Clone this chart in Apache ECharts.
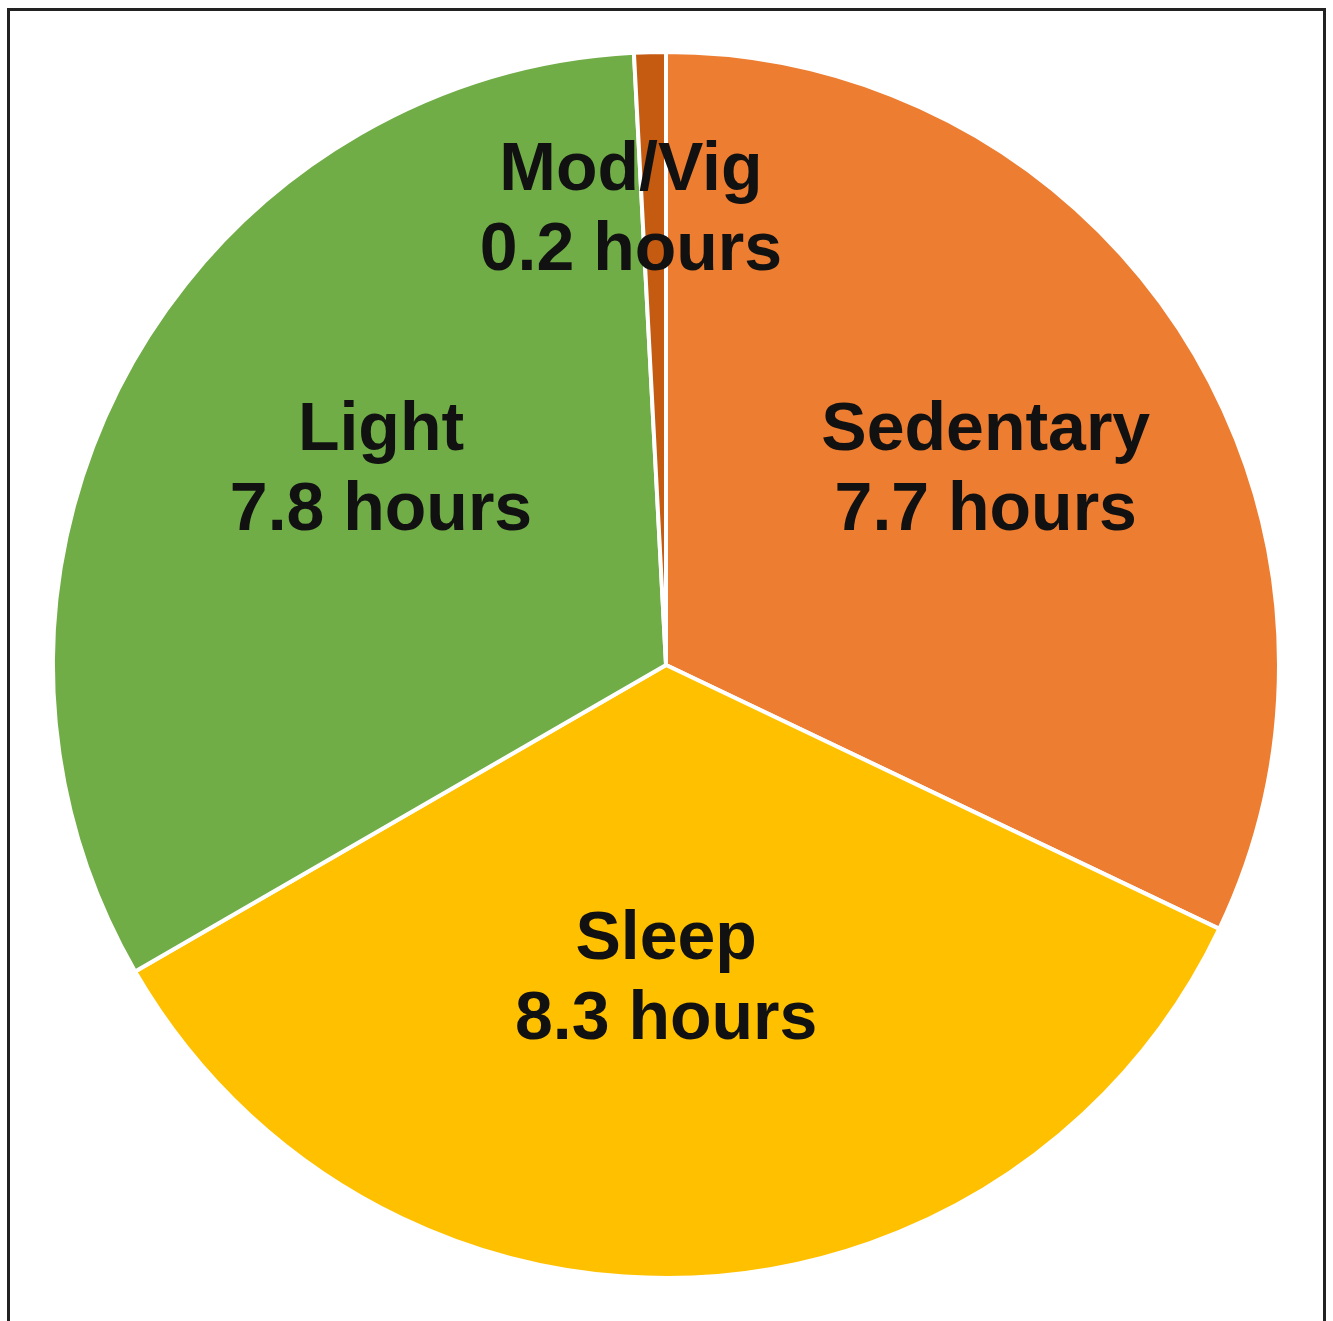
<!DOCTYPE html>
<html>
<head>
<meta charset="utf-8">
<script src="https://cdn.jsdelivr.net/npm/echarts@6/dist/echarts.min.js"></script>
<style>
  html, body { margin: 0; padding: 0; background: #fff; }
  #chart { width: 1333px; height: 1321px; }
</style>
</head>
<body>
<div id="chart"></div>
<script>
// activity time per day, clockwise from 12 o'clock
var categories = ['Sedentary', 'Sleep', 'Light', 'Mod/Vig'];
var hours = [7.7, 8.3, 7.8, 0.2];
var colors = ['#ED7D31', '#FFC000', '#70AD47', '#C55A11'];

// nudge labels to where the original put them
var labelOffset = {
    'Sedentary': [58, -29],
    'Sleep': [-12, 6],
    'Light': [-13, -46],
    'Mod/Vig': [-27, -144]
};

var chart = echarts.init(document.getElementById('chart'));

var option = {
    animation: false,
    backgroundColor: '#fff',
    graphic: [{
        type: 'rect',
        shape: { x: 8.5, y: 9.5, width: 1316, height: 1340 },
        style: { fill: 'none', stroke: '#222', lineWidth: 3 }
    }],
    series: [{
        type: 'pie',
        center: [666, 665],
        radius: [0, 613],
        startAngle: 90,
        clockwise: true,
        itemStyle: { borderColor: '#fff', borderWidth: 4 },
        label: {
            show: true,
            position: 'inside',
            color: '#111',
            fontFamily: 'Liberation Sans, Arial, sans-serif',
            fontWeight: 'bold',
            fontSize: 68,
            lineHeight: 80,
            formatter: function (p) {
                return p.name + '\n' + p.value + ' hours';
            }
        },
        labelLine: { show: false },
        data: categories.map(function (name, i) {
            return {
                name: name,
                value: hours[i],
                itemStyle: { color: colors[i] },
                label: { offset: labelOffset[name] }
            };
        })
    }]
};

chart.setOption(option);
</script>
</body>
</html>
